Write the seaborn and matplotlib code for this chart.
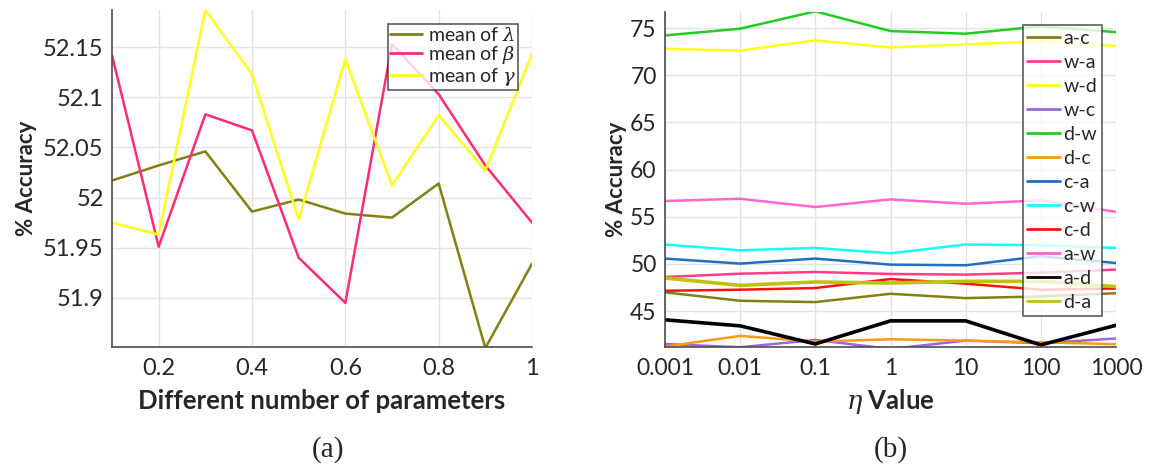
import numpy as np
import pandas as pd
import matplotlib
matplotlib.use("Agg")
import matplotlib.pyplot as plt
import seaborn as sns

# (a) mean values vs number of parameters
params = [0.1, 0.2, 0.3, 0.4, 0.5, 0.6, 0.7, 0.8, 0.9, 1.0]
mean_lambda = [52.017, 52.032, 52.046, 51.986, 51.998, 51.984, 51.980, 52.014, 51.850, 51.934]
mean_beta = [52.142, 51.951, 52.083, 52.067, 51.940, 51.895, 52.153, 52.103, 52.032, 51.975]
mean_gamma = [51.975, 51.963, 52.187, 52.123, 51.978, 52.138, 52.012, 52.082, 52.027, 52.143]

# (b) accuracy vs eta
eta = [0.001, 0.01, 0.1, 1, 10, 100, 1000]
eta_labels = ["0.001", "0.01", "0.1", "1", "10", "100", "1000"]
tasks = ["a-c", "w-a", "w-d", "w-c", "d-w", "d-c", "c-a", "c-w", "c-d", "a-w", "a-d", "d-a"]
acc = {
    "a-c": [46.99, 46.10, 45.96, 46.84, 46.38, 46.56, 46.90],
    "w-a": [48.62, 48.97, 49.15, 48.94, 48.87, 49.08, 49.40],
    "w-d": [72.80, 72.62, 73.69, 72.94, 73.26, 73.60, 73.09],
    "w-c": [41.52, 41.17, 41.95, 40.99, 41.88, 41.60, 42.10],
    "d-w": [74.22, 74.93, 76.77, 74.68, 74.40, 75.18, 74.57],
    "d-c": [41.24, 42.38, 41.77, 42.02, 41.88, 41.70, 41.50],
    "c-a": [50.57, 50.04, 50.57, 49.93, 49.86, 50.82, 50.10],
    "c-w": [52.06, 51.45, 51.70, 51.13, 52.06, 51.99, 51.70],
    "c-d": [47.16, 47.27, 47.45, 48.40, 47.91, 47.27, 47.40],
    "a-w": [56.67, 56.91, 56.03, 56.84, 56.38, 56.74, 55.53],
    "a-d": [44.08, 43.44, 41.52, 43.97, 43.97, 41.42, 43.50],
    "d-a": [48.51, 47.73, 48.09, 47.98, 48.16, 48.16, 47.60],
}

sns.set_style("white")
plt.rcParams["font.family"] = ["Lato", "DejaVu Sans"]
plt.rcParams["mathtext.fontset"] = "dejavuserif"

fig = plt.figure(figsize=(11.52, 4.68), dpi=100)
ax1 = fig.add_axes([112 / 1152, 1 - 347 / 468, 420 / 1152, 337 / 468])
ax2 = fig.add_axes([665 / 1152, 1 - 347 / 468, 451 / 1152, 335 / 468])

grid_c = "#e3e3e3"
spine_c = "#4d4d4d"
text_c = "#262626"

# ---- (a)
lab_l, lab_b, lab_g = r"mean of $\lambda$", r"mean of $\beta$", r"mean of $\gamma$"
df_a = pd.DataFrame({
    "x": params * 3,
    "y": mean_lambda + mean_beta + mean_gamma,
    "s": [lab_l] * 10 + [lab_b] * 10 + [lab_g] * 10,
})
pal_a = {lab_l: "#808015", lab_b: "#ff2a7a", lab_g: "#ffff1a"}
sns.lineplot(data=df_a, x="x", y="y", hue="s", palette=pal_a, lw=1.8, ax=ax1)
ax1.set_xlim(0.1, 1.0)
ax1.set_ylim(51.851, 52.187)
ax1.set_xticks([0.2, 0.4, 0.6, 0.8, 1.0])
ax1.set_xticklabels(["0.2", "0.4", "0.6", "0.8", "1"])
ax1.set_yticks([51.9, 51.95, 52.0, 52.05, 52.1, 52.15])
ax1.set_yticklabels(["51.9", "51.95", "52", "52.05", "52.1", "52.15"])
ax1.grid(True, color=grid_c, lw=1)
ax1.set_xlabel("Different number of parameters", fontsize=18.5, fontweight="bold", color=text_c, labelpad=7)
ax1.set_ylabel("% Accuracy", fontsize=16, fontweight="bold", color=text_c, labelpad=4)
leg = ax1.legend(loc="upper right", bbox_to_anchor=(0.967, 0.958), fontsize=14, frameon=True,
                 fancybox=False, edgecolor="#333333", handlelength=1.65, borderpad=0.1,
                 labelspacing=0.0, handletextpad=0.3, borderaxespad=0)
leg.get_frame().set_linewidth(1.2)
for line in leg.get_lines():
    line.set_linewidth(2)

# ---- (b)
rows = []
for t in tasks:
    for e, v in zip(eta, acc[t]):
        rows.append((e, v, t))
df_b = pd.DataFrame(rows, columns=["eta", "acc", "task"])
pal_b = {"a-c": "#808015", "w-a": "#ff3c8c", "w-d": "#ffff1a", "w-c": "#9966dd",
         "d-w": "#22cc22", "d-c": "#ff9911", "c-a": "#1f6fc4", "c-w": "#11ffff",
         "c-d": "#ff1111", "a-w": "#ff66cc", "a-d": "#000000", "d-a": "#c0c010"}
sns.lineplot(data=df_b, x="eta", y="acc", hue="task", hue_order=tasks, palette=pal_b, lw=1.8, ax=ax2)
for line, t in zip(ax2.get_lines(), tasks):
    if t in ("a-d", "d-a"):
        line.set_linewidth(2.6)
ax2.set_xscale("log")
ax2.set_xlim(0.001, 1000)
ax2.set_ylim(41.2, 76.7)
ax2.set_xticks(eta)
ax2.set_xticklabels(eta_labels)
ax2.xaxis.set_minor_locator(matplotlib.ticker.NullLocator())
ax2.set_yticks([45, 50, 55, 60, 65, 70, 75])
ax2.grid(True, color=grid_c, lw=1)
ax2.set_xlabel(r"$\eta$ Value", fontsize=18.5, fontweight="bold", color=text_c, labelpad=6)
ax2.set_ylabel("% Accuracy", fontsize=16, fontweight="bold", color=text_c, labelpad=2)
leg2 = ax2.legend(loc="upper right", bbox_to_anchor=(0.969, 0.96), fontsize=14, frameon=True,
                  fancybox=False, edgecolor="#333333", handlelength=1.65, borderpad=0.25,
                  labelspacing=0.36, handletextpad=0.2, borderaxespad=0)
leg2.get_frame().set_linewidth(1.2)
for line in leg2.get_lines():
    line.set_linewidth(2)

for ax, ls in ((ax1, 17), (ax2, 16.5)):
    for s in ("top", "right"):
        ax.spines[s].set_visible(False)
    for s in ("left", "bottom"):
        ax.spines[s].set_color(spine_c)
        ax.spines[s].set_linewidth(1.2)
    ax.tick_params(axis="both", which="both", direction="in", length=4, color=spine_c,
                   labelsize=ls, labelcolor=text_c)
    ax.tick_params(axis="x", pad=8)
    ax.tick_params(axis="y", length=5, pad=6)

fig.text(328 / 1152, 1 - 450 / 468, "(a)", fontsize=21, family="Liberation Serif", ha="center", va="center")
fig.text(891 / 1152, 1 - 450 / 468, "(b)", fontsize=21, family="Liberation Serif", ha="center", va="center")

fig.savefig("out.png", dpi=100, facecolor="white")
